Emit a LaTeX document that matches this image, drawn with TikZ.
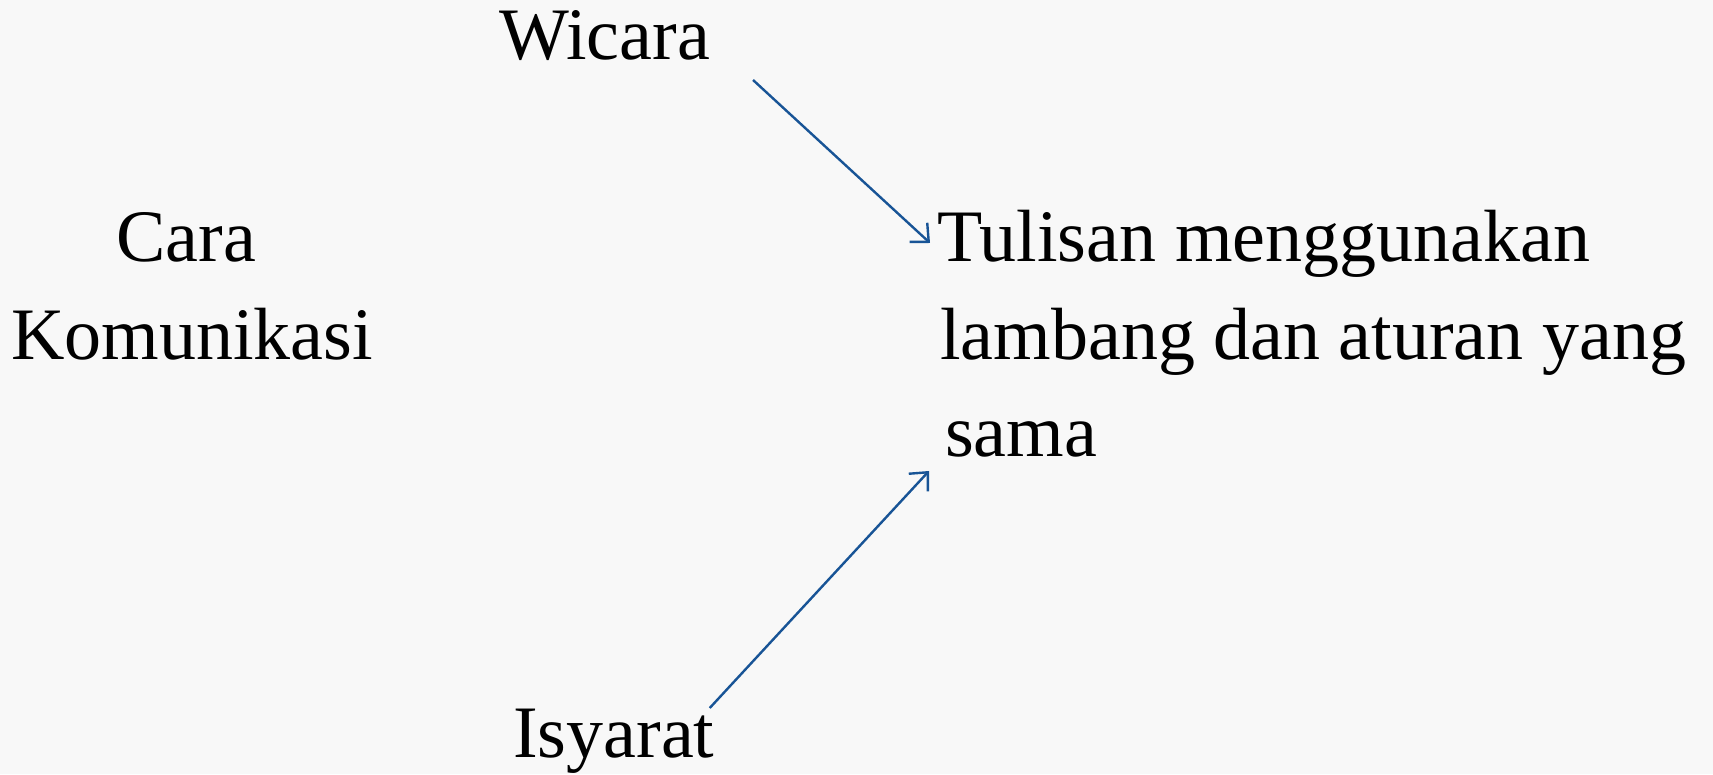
\documentclass[tikz,border=0pt]{standalone}
\usepackage{fontspec}
\setmainfont{Liberation Serif}
\usetikzlibrary{arrows.meta}
\definecolor{arrowblue}{RGB}{24,84,150}
\definecolor{paper}{RGB}{248,248,248}

\begin{document}
\begin{tikzpicture}[x=1pt, y=1pt,
    word/.style={inner sep=0pt, anchor=base west, font=\fontsize{74}{98}\selectfont},
    link/.style={draw=arrowblue, line width=2.4pt, -{Straight Barb[length=14pt, width=26pt, line width=2.4pt]}}]
    % page and background
    \fill[paper] (0,0) rectangle (1713,774);
    \useasboundingbox (0,0) rectangle (1713,774);
    % words
    \node[word] (wicara) at (499,714) {Wicara};
    \node[word] (cara) at (116,512) {Cara};
    \node[word] (komunikasi) at (11,414) {Komunikasi};
    \node[word] (tulis1) at (937,512) {Tulisan menggunakan};
    \node[word] (tulis2) at (940,414) {lambang dan aturan yang};
    \node[word] (tulis3) at (945,317) {sama};
    \node[word] (isyarat) at (513,17) {Isyarat};
    % arrows
    \coordinate (w0) at ([shift={(43,-20)}]wicara.base east);
    \coordinate (w1) at ([shift={(-7,19)}]tulis1.base west);
    \coordinate (i0) at ([shift={(-5,49)}]isyarat.base east);
    \coordinate (i1) at ([shift={(-16,-14)}]tulis3.base west);
    \draw[link] (w0) -- (w1);
    \draw[link] (i0) -- (i1);
\end{tikzpicture}
\end{document}
